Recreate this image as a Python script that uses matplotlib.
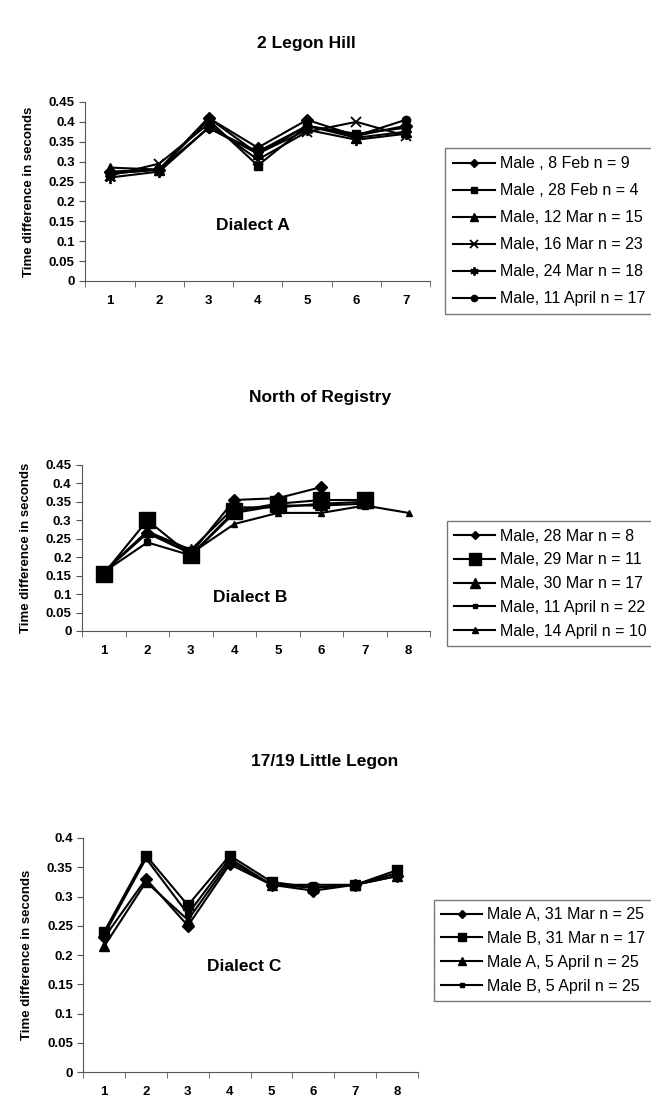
import numpy as np
import matplotlib
matplotlib.use("Agg")
import matplotlib.pyplot as plt

plt.rcParams['font.family'] = ['Liberation Sans', 'DejaVu Sans']

# Panel A - 2 Legon Hill
a_x = [1, 2, 3, 4, 5, 6, 7]
a_labels = ["Male , 8 Feb n = 9", "Male , 28 Feb n = 4", "Male, 12 Mar n = 15",
            "Male, 16 Mar n = 23", "Male, 24 Mar n = 18", "Male, 11 April n = 17"]
a_feb8 = [0.275, 0.28, 0.41, 0.335, 0.405, 0.365, 0.39]
a_feb28 = [0.27, 0.28, 0.405, 0.29, 0.39, 0.37, 0.385]
a_mar12 = [0.285, 0.28, 0.41, 0.32, 0.39, 0.36, 0.375]
a_mar16 = [0.265, 0.295, 0.395, 0.305, 0.375, 0.40, 0.365]
a_mar24 = [0.26, 0.275, 0.385, 0.32, 0.38, 0.355, 0.37]
a_apr11 = [0.27, 0.28, 0.385, 0.325, 0.39, 0.365, 0.405]

# Panel B - North of Registry
b_labels = ["Male, 28 Mar n = 8", "Male, 29 Mar n = 11", "Male, 30 Mar n = 17",
            "Male, 11 April n = 22", "Male, 14 April n = 10"]
b_mar28 = [0.16, 0.265, 0.21, 0.355, 0.36, 0.39]
b_mar29 = [0.155, 0.30, 0.205, 0.325, 0.345, 0.355, 0.355]
b_mar30 = [0.16, 0.27, 0.22, 0.335, 0.335, 0.345, 0.35]
b_apr11 = [0.16, 0.24, 0.205, 0.32, 0.34, 0.34, 0.345]
b_apr14 = [0.16, 0.27, 0.21, 0.29, 0.32, 0.32, 0.34, 0.32]

# Panel C - 17/19 Little Legon
c_labels = ["Male A, 31 Mar n = 25", "Male B, 31 Mar n = 17",
            "Male A, 5 April n = 25", "Male B, 5 April n = 25"]
c_a31 = [0.23, 0.33, 0.25, 0.355, 0.32, 0.31, 0.32, 0.335]
c_b31 = [0.24, 0.37, 0.285, 0.37, 0.325, 0.315, 0.32, 0.345]
c_a5 = [0.215, 0.325, 0.26, 0.36, 0.32, 0.315, 0.32, 0.335]
c_b5 = [0.235, 0.365, 0.27, 0.365, 0.32, 0.32, 0.32, 0.34]

fig = plt.figure(figsize=(6.51, 11.07), dpi=100)

def style_axes(ax, ncat, ymax):
    ax.set_xlim(0.5, ncat + 0.5)
    ax.set_ylim(0, ymax)
    for s in ['top', 'right']:
        ax.spines[s].set_visible(False)
    ax.spines['left'].set_color('#555555')
    ax.spines['bottom'].set_color('#555555')
    ax.set_xticks(range(1, ncat + 1))
    ax.set_xticks(np.arange(0.5, ncat + 1), minor=True)
    ax.tick_params(axis='x', which='major', length=0, pad=10, labelsize=9.5)
    ax.tick_params(axis='x', which='minor', length=4, direction='out', color='#555555')
    ax.set_yticks(np.arange(0, ymax + 0.001, 0.05))
    ax.set_yticklabels(['%g' % round(v, 2) for v in np.arange(0, ymax + 0.001, 0.05)])
    ax.tick_params(axis='y', length=4, direction='out', labelsize=9.5, color='#555555')
    for lab in ax.get_xticklabels() + ax.get_yticklabels():
        lab.set_fontweight('bold')
    ax.set_ylabel('Time difference in seconds', fontsize=9.5, fontweight='bold', labelpad=10)

kw = dict(color='black', linewidth=1.5)
leg_kw = dict(loc='upper left', fontsize=11.5, handlelength=2.6, frameon=True, fancybox=False,
              edgecolor='#555555', borderaxespad=0, handletextpad=0.3, markerscale=0.75)

# --- Panel A
ax1 = fig.add_axes([0.131, 0.7462, 0.530, 0.1617])
ax1.plot(a_x, a_feb8, marker='D', ms=6, label=a_labels[0], **kw)
ax1.plot(a_x, a_feb28, marker='s', ms=6, label=a_labels[1], **kw)
ax1.plot(a_x, a_mar12, marker='^', ms=7, label=a_labels[2], **kw)
ax1.plot(a_x, a_mar16, marker='x', ms=7, mew=1.3, label=a_labels[3], **kw)
ax1.plot(a_x, a_mar24, marker=(6, 2, 0), ms=8, mew=1.3, label=a_labels[4], **kw)
ax1.plot(a_x, a_apr11, marker='o', ms=6, label=a_labels[5], **kw)
style_axes(ax1, 7, 0.45)
fig.text(0.470, 0.961, '2 Legon Hill', fontsize=12.5, fontweight='bold', ha='center', va='center')
ax1.text(3.9, 0.14, 'Dialect A', fontsize=12.5, fontweight='bold', ha='center', va='center')
fig.legend(*ax1.get_legend_handles_labels(), bbox_to_anchor=(0.684, 0.866),
           labelspacing=0.75, borderpad=0.5, **leg_kw)

# --- Panel B
ax2 = fig.add_axes([0.126, 0.430, 0.535, 0.150])
ax2.plot(range(1, len(b_mar28) + 1), b_mar28, marker='D', ms=6, label=b_labels[0], **kw)
ax2.plot(range(1, len(b_mar29) + 1), b_mar29, marker='s', ms=11, label=b_labels[1], **kw)
ax2.plot(range(1, len(b_mar30) + 1), b_mar30, marker='^', ms=9, label=b_labels[2], **kw)
ax2.plot(range(1, len(b_apr11) + 1), b_apr11, marker='s', ms=4.5, label=b_labels[3], **kw)
ax2.plot(range(1, len(b_apr14) + 1), b_apr14, marker='^', ms=5, label=b_labels[4], **kw)
style_axes(ax2, 8, 0.45)
fig.text(0.492, 0.641, 'North of Registry', fontsize=12.5, fontweight='bold', ha='center', va='center')
ax2.text(4.37, 0.09, 'Dialect B', fontsize=12.5, fontweight='bold', ha='center', va='center')
fig.legend(*ax2.get_legend_handles_labels(), bbox_to_anchor=(0.686, 0.529),
           labelspacing=0.55, borderpad=0.45, **leg_kw)

# --- Panel C
ax3 = fig.add_axes([0.128, 0.0316, 0.514, 0.2114])
ax3.plot(range(1, 9), c_a31, marker='D', ms=6, label=c_labels[0], **kw)
ax3.plot(range(1, 9), c_b31, marker='s', ms=7, label=c_labels[1], **kw)
ax3.plot(range(1, 9), c_a5, marker='^', ms=7, label=c_labels[2], **kw)
ax3.plot(range(1, 9), c_b5, marker='s', ms=4.5, label=c_labels[3], **kw)
style_axes(ax3, 8, 0.4)
fig.text(0.498, 0.312, '17/19 Little Legon', fontsize=12.5, fontweight='bold', ha='center', va='center')
ax3.text(4.34, 0.18, 'Dialect C', fontsize=12.5, fontweight='bold', ha='center', va='center')
fig.legend(*ax3.get_legend_handles_labels(), bbox_to_anchor=(0.666, 0.187),
           labelspacing=0.55, borderpad=0.45, **leg_kw)

fig.savefig('out.png', dpi=100, facecolor='white')
